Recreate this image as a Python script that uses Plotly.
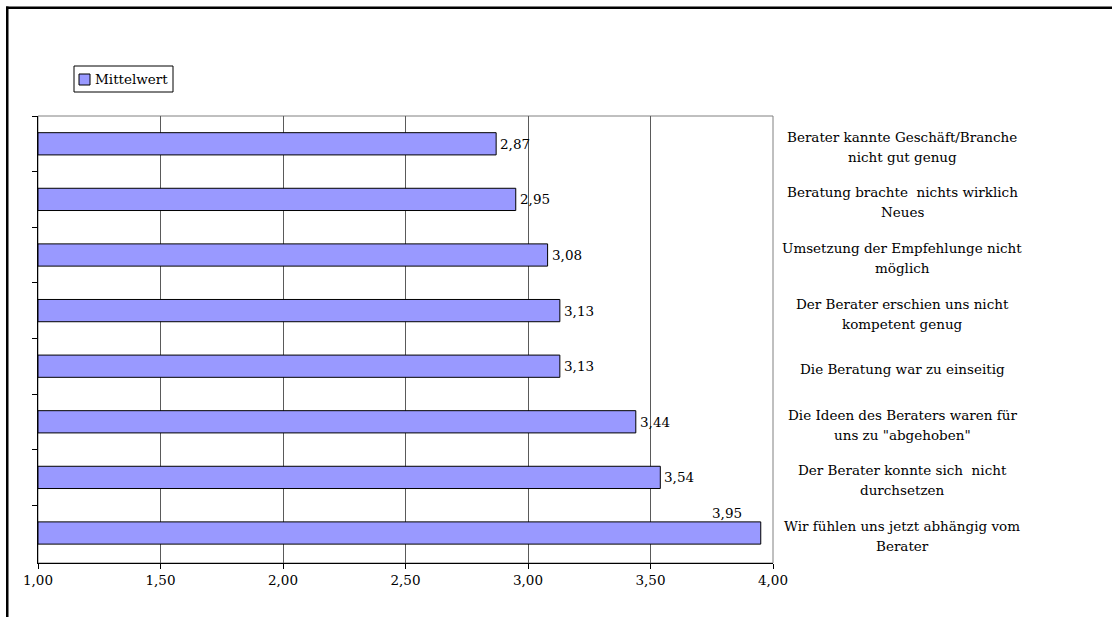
import plotly.graph_objects as go

# Gründe gegen eine erneute Beratung (Mittelwerte), von oben nach unten
categories = [
    "Berater kannte Geschäft/Branche<br>nicht gut genug",
    "Beratung brachte  nichts wirklich<br>Neues",
    "Umsetzung der Empfehlunge nicht<br>möglich",
    "Der Berater erschien uns nicht<br>kompetent genug",
    "Die Beratung war zu einseitig",
    "Die Ideen des Beraters waren für<br>uns zu \"abgehoben\"",
    "Der Berater konnte sich  nicht<br>durchsetzen",
    "Wir fühlen uns jetzt abhängig vom<br>Berater",
]
mittelwert = [2.87, 2.95, 3.08, 3.13, 3.13, 3.44, 3.54, 3.95]
x_ticks = [1.0, 1.5, 2.0, 2.5, 3.0, 3.5, 4.0]
series_name = "Mittelwert"
axis_origin = 1.0

FONT = "DejaVu Serif"
FS = 13.5
BAR_COLOR = "#9999FF"
W, H = 1112, 617
L, R, T, B = 38, 1112 - 773, 116, 617 - 563
PW, PH = W - L - R, H - T - B
LINE_GAP = 20  # px between the two lines of a category text


def px_x(px):
    return (px - L) / PW


def px_y(py):
    return (H - B - py) / PH


def de(v):
    return f"{v:.2f}".replace(".", ",")


txt_font = dict(family=FONT, size=FS, color="black")

fig = go.Figure()
fig.add_trace(go.Bar(
    x=[v - axis_origin for v in mittelwert],
    base=[axis_origin] * len(mittelwert),
    y=categories,
    orientation="h",
    name=series_name,
    width=0.4,
    marker=dict(color=BAR_COLOR, line=dict(color="black", width=1)),
    showlegend=False,
    hovertemplate="%{y}: %{customdata}<extra></extra>",
    customdata=[de(v) for v in mittelwert],
))

annotations = []
for cat, v in zip(categories, mittelwert):
    # category text to the right of the plot area, one annotation per line
    lines = cat.split("<br>")
    n = len(lines)
    for k, line in enumerate(lines):
        offset = ((n - 1) / 2 - k) * LINE_GAP - 3
        annotations.append(dict(
            x=px_x(902), xref="paper", y=cat, yref="y",
            text=line, showarrow=False, xanchor="center", yanchor="middle",
            yshift=offset, font=txt_font,
        ))
    # value label (the longest bar gets its label above the bar end)
    if v > 3.9:
        annotations.append(dict(
            x=v, xref="x", y=cat, yref="y", text=de(v), showarrow=False,
            xanchor="right", yanchor="middle", xshift=-17, yshift=20,
            font=txt_font,
        ))
    else:
        annotations.append(dict(
            x=v, xref="x", y=cat, yref="y", text=de(v), showarrow=False,
            xanchor="left", yanchor="middle", xshift=2, font=txt_font,
        ))

# legend: framed box with swatch and series name
annotations.append(dict(
    x=px_x(93), xref="paper", y=px_y(79), yref="paper", text=series_name,
    showarrow=False, xanchor="left", yanchor="middle", font=txt_font,
))

shapes = [
    # plot area frame (top / right)
    dict(type="rect", xref="paper", yref="paper", x0=0, x1=1, y0=0, y1=1,
         line=dict(color="#808080", width=1), layer="below"),
    # outer chart frame: left and top edges as solid strips
    dict(type="rect", xref="paper", yref="paper",
         x0=px_x(6), x1=px_x(8.5), y0=px_y(H), y1=px_y(6.5),
         line=dict(width=0), fillcolor="black"),
    dict(type="rect", xref="paper", yref="paper",
         x0=px_x(6), x1=px_x(W), y0=px_y(9), y1=px_y(6.5),
         line=dict(width=0), fillcolor="black"),
    # legend frame
    dict(type="rect", xref="paper", yref="paper",
         x0=px_x(74), x1=px_x(173), y0=px_y(92), y1=px_y(66),
         line=dict(color="black", width=1), fillcolor="white"),
    # legend swatch
    dict(type="rect", xref="paper", yref="paper",
         x0=px_x(79), x1=px_x(90), y0=px_y(85), y1=px_y(74),
         line=dict(color="black", width=1), fillcolor=BAR_COLOR),
]

fig.update_layout(
    width=W, height=H,
    margin=dict(l=L, r=R, t=T, b=B, pad=0),
    paper_bgcolor="white", plot_bgcolor="white",
    separators=",.",
    font=txt_font,
    showlegend=False,
    xaxis=dict(
        range=[1.0, 4.0], tickvals=x_ticks, tickformat=".2f",
        showgrid=True, gridcolor="#5a5a5a", gridwidth=1,
        showline=True, linecolor="black", linewidth=1,
        ticks="outside", ticklen=5, tickcolor="black",
        zeroline=False, tickfont=txt_font,
    ),
    yaxis=dict(
        autorange="reversed", showticklabels=False,
        showgrid=False, showline=True, linecolor="black", linewidth=1,
        ticks="outside", ticklen=5, tickcolor="black",
        tickson="boundaries", zeroline=False,
    ),
    annotations=annotations,
    shapes=shapes,
)

fig.write_html("out.html")
